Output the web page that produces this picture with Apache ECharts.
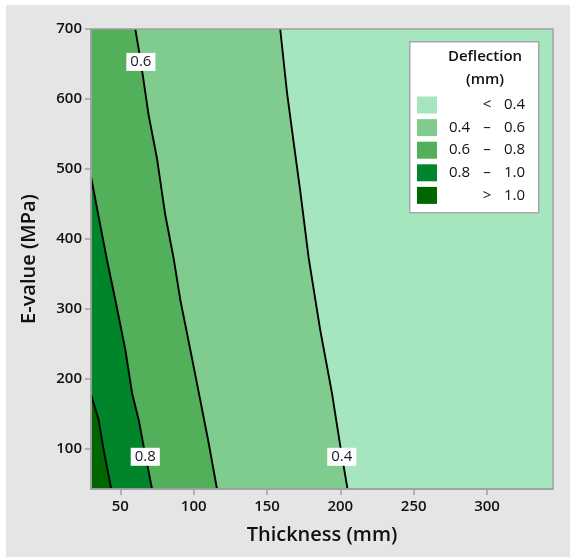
<!DOCTYPE html>
<html>
<head>
<meta charset="utf-8">
<script src="https://cdn.jsdelivr.net/npm/echarts@6/dist/echarts.min.js"></script>
<style>
html,body{margin:0;padding:0;background:#fff;}
#c{width:570px;height:557px;}
</style>
</head>
<body>
<div id="c"></div>
<script>
// ---- data ----
const thicknessRange = [30, 345];
const eValueRange = [43, 700];
const xTicks = [50, 100, 150, 200, 250, 300];
const yTicks = [100, 200, 300, 400, 500, 600, 700];
// contour lines [thickness, E-value]
const line04 = [[159,700],[163.6,610],[168.1,539],[172.7,468],[178.4,373],[186.3,270],[194.3,180],[200,104],[204.9,43]];
const line06 = [[60.2,700],[63.6,658],[69.3,577],[75,515],[80.6,435],[86.3,373],[90.9,313],[97.7,242],[104.5,170],[110.2,109],[115.9,43]];
const line08 = [[30,489],[35.2,432],[40.9,370],[46.6,313],[53.4,242],[58,180],[62.5,142],[65.9,104],[71.6,43]];
const line10 = [[30,178],[35.2,142],[38.6,99],[43.8,43]];
const contourLevels = ['0.4', '0.6', '0.8', '1.0'];
const contourLabels = [[64, 653, '0.6'], [67, 89, '0.8'], [201, 89, '0.4']];
const legendTitle = ['Deflection', '(mm)'];
const legendRows = [['', '<', '0.4'], ['0.4', '–', '0.6'], ['0.6', '–', '0.8'], ['0.8', '–', '1.0'], ['', '>', '1.0']];
const bandColors = ['#A6E6BE', '#80CC8F', '#52AF5A', '#00852A', '#006700'];

const chart = echarts.init(document.getElementById('c'), null, {renderer: 'canvas'});
const FONT = 'Open Sans';
const lines = [line04, line06, line08, line10];

function regionPolygon(i) {
  const [x0, x1] = thicknessRange, [y0, y1] = eValueRange;
  if (i === 0) return [[x0, y0], [x1, y0], [x1, y1], [x0, y1]];
  const ln = lines[i - 1];
  const pts = ln.slice();
  pts.push([x0, y0]);
  pts.push([x0, ln[0][1] >= y1 ? y1 : ln[0][1]]);
  return pts;
}

const legendGraphics = [];
const lgX = 409, lgY = 41;
legendGraphics.push({type: 'rect', left: lgX + 1, top: lgY + 1, shape: {width: 129, height: 171},
  style: {fill: '#c8c8c8'}, z: 99});
legendGraphics.push({type: 'rect', left: lgX, top: lgY, shape: {width: 129, height: 171},
  style: {fill: '#fff', stroke: '#a8a8a8', lineWidth: 1.5}, z: 100});
legendGraphics.push({type: 'text', x: 485, y: 57, style: {text: legendTitle[0], font: '600 15px "' + FONT + '"', fill: '#111', align: 'center', verticalAlign: 'middle'}, z: 101});
legendGraphics.push({type: 'text', x: 485, y: 80, style: {text: legendTitle[1], font: '600 15px "' + FONT + '"', fill: '#111', align: 'center', verticalAlign: 'middle'}, z: 101});
legendRows.forEach((r, i) => {
  const cy = 105 + i * 22.6;
  legendGraphics.push({type: 'rect', x: 417, y: cy - 8.5, shape: {width: 20, height: 17}, style: {fill: bandColors[i]}, z: 101});
  if (r[0]) legendGraphics.push({type: 'text', x: 470, y: cy, style: {text: r[0], font: '15px "' + FONT + '"', fill: '#111', align: 'right', verticalAlign: 'middle'}, z: 101});
  legendGraphics.push({type: 'text', x: 487, y: cy, style: {text: r[1], font: '15px "' + FONT + '"', fill: '#111', align: 'center', verticalAlign: 'middle'}, z: 101});
  legendGraphics.push({type: 'text', x: 525, y: cy, style: {text: r[2], font: '15px "' + FONT + '"', fill: '#111', align: 'right', verticalAlign: 'middle'}, z: 101});
});

const option = {
  animation: false,
  backgroundColor: '#fff',
  graphic: [
    {type: 'rect', left: 6, top: 5, shape: {width: 570, height: 560}, style: {fill: '#e5e5e5'}, z: -10, silent: true},
    ...legendGraphics
  ],
  grid: {left: 91, top: 29, width: 462, height: 460, show: true, borderColor: '#a0a0a0', borderWidth: 1.5, backgroundColor: 'transparent', z: 10},
  xAxis: {
    type: 'value', min: thicknessRange[0], max: thicknessRange[1],
    name: 'Thickness (mm)', nameLocation: 'middle', nameGap: 36,
    nameTextStyle: {fontFamily: FONT, fontSize: 20, fontWeight: 600, color: '#111'},
    axisLine: {show: true, lineStyle: {color: '#a0a0a0', width: 1.5}},
    axisTick: {show: true, length: 6, lineStyle: {color: '#a0a0a0', width: 1.5}, customValues: xTicks},
    axisLabel: {customValues: xTicks, margin: 10, fontFamily: FONT, fontSize: 15, fontWeight: 600, color: '#111'},
    splitLine: {show: false}, z: 20
  },
  yAxis: {
    type: 'value', min: eValueRange[0], max: eValueRange[1],
    name: 'E-value (MPa)', nameLocation: 'middle', nameGap: 52,
    nameTextStyle: {fontFamily: FONT, fontSize: 20, fontWeight: 600, color: '#111'},
    axisLine: {show: true, lineStyle: {color: '#a0a0a0', width: 1.5}},
    axisTick: {show: true, length: 6, lineStyle: {color: '#a0a0a0', width: 1.5}, customValues: yTicks},
    axisLabel: {customValues: yTicks, margin: 9, fontFamily: FONT, fontSize: 15, fontWeight: 600, color: '#111'},
    splitLine: {show: false}, z: 20
  },
  series: [
    {
      type: 'custom', coordinateSystem: 'cartesian2d', silent: true, z: 1,
      data: bandColors.map((c, i) => [i]),
      renderItem: function (params, api) {
        const i = api.value(0);
        const pts = regionPolygon(i).map(p => api.coord(p));
        return {type: 'polygon', z2: i, shape: {points: pts}, style: {fill: bandColors[i], stroke: null}};
      },
      encode: {x: -1, y: -1}
    },
    ...lines.map((ln, i) => ({
      type: 'line', name: contourLevels[i], data: ln, symbol: 'none', silent: true, z: 5,
      lineStyle: {color: '#000', width: 1.9}
    })),
    {
      type: 'custom', coordinateSystem: 'cartesian2d', silent: true, z: 8,
      data: contourLabels,
      encode: {x: 0, y: 1},
      renderItem: function (params, api) {
        const c = api.coord([api.value(0), api.value(1)]);
        return {type: 'text', x: c[0], y: c[1], style: {
          text: contourLabels[params.dataIndex][2], font: '15px "' + FONT + '"', fill: '#1a1a2a',
          align: 'center', verticalAlign: 'middle', backgroundColor: '#fff', padding: [2, 4, 1, 4]
        }};
      }
    }
  ]
};
chart.setOption(option);
</script>
</body>
</html>
